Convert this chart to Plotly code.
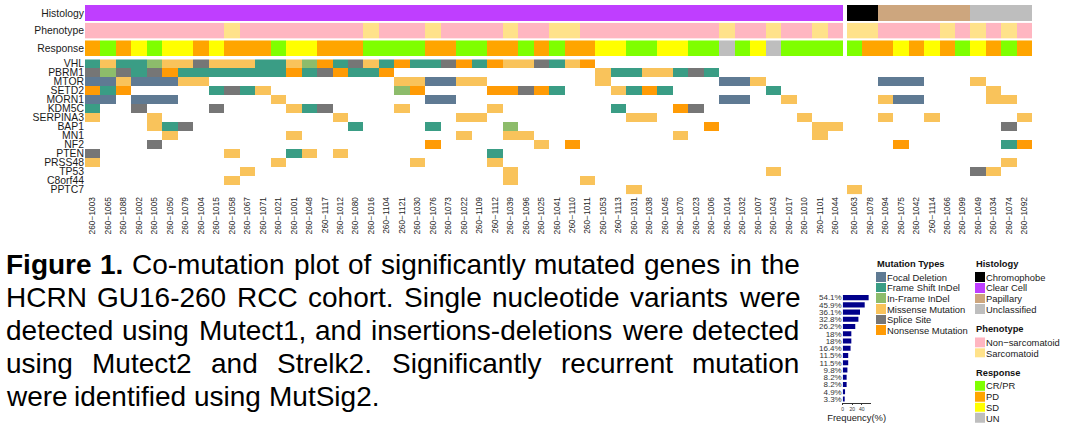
import plotly.graph_objects as go

W, H = 1081, 435
FONT = "Liberation Sans, Arial, Helvetica, sans-serif"

# ---------------------------------------------------------------- data
samples_clear_cell = [
    "260−1003", "260−1065", "260−1088", "260−1002", "260−1005", "260−1050", "260−1079",
    "260−1004", "260−1015", "260−1058", "260−1067", "260−1071", "260−1021", "260−1001",
    "260−1048", "260−1117", "260−1012", "260−1080", "260−1016", "260−1104", "260−1121",
    "260−1030", "260−1076", "260−1073", "260−1022", "260−1109", "260−1112", "260−1039",
    "260−1096", "260−1025", "260−1041", "260−1110", "260−1011", "260−1053", "260−1113",
    "260−1031", "260−1038", "260−1045", "260−1070", "260−1023", "260−1006", "260−1014",
    "260−1032", "260−1007", "260−1043", "260−1017", "260−1010", "260−1101", "260−1044",
]
samples_other = [
    "260−1063", "260−1078", "260−1094", "260−1075", "260−1042", "260−1114",
    "260−1066", "260−1099", "260−1049", "260−1034", "260−1074", "260−1092",
]

genes = ["VHL", "PBRM1", "MTOR", "SETD2", "MORN1", "KDM5C", "SERPINA3", "BAP1",
         "MN1", "NF2", "PTEN", "PRSS48", "TP53", "C8orf44", "PPTC7"]
freq_pct = [54.1, 45.9, 36.1, 32.8, 26.2, 18, 18, 16.4, 11.5, 11.5, 9.8, 8.2, 8.2, 4.9, 3.3]

mut_types = ["Focal Deletion", "Frame Shift InDel", "In-Frame InDel",
             "Missense Mutation", "Splice Site", "Nonsense Mutation"]
mut_letters = ["D", "F", "I", "M", "S", "N"]
mut_colors = ["#5F7A93", "#3A9D85", "#8DBC6B", "#F9C35B", "#767676", "#FF9B05"]

histology_levels = ["Chromophobe", "Clear Cell", "Papillary", "Unclassified"]
histology_letters = ["H", "C", "P", "U"]
histology_colors = ["#000000", "#BF3EFF", "#CDA67E", "#BEBEBE"]

phenotype_levels = ["Non−sarcomatoid", "Sarcomatoid"]
phenotype_letters = ["N", "S"]
phenotype_colors = ["#FFB6C1", "#FFE28A"]

response_levels = ["CR/PR", "PD", "SD", "UN"]
response_letters = ["R", "P", "S", "U"]
response_colors = ["#7FFF00", "#FFA500", "#FFFF00", "#BEBEBE"]

# per-sample codes: clear-cell block | other block  ('.' = no alteration)
histology_row = "CCCCCCCCCC" "CCCCCCCCCC" "CCCCCCCCCC" "CCCCCCCCCC" "CCCCCCCCC" "|" "HHPPPPPPUUUU"
phenotype_row = "NNNNNNNNNS" "NNNNNNNNSN" "NNSNNNNSNN" "SSNNNNNNNN" "NSNNSNNSN" "|" "SSNNNNSNSNSN"
response_row = "PRPSRSSPSP" "PPRSSPPPRR" "RRPPRRPPRP" "RPPSSRRSSR" "RURSURRRR" "|" "RPPSPSPRSPRP"

onc_VHL = "FMFFIMMSMM" "MFFMINFSMF" "NFFSNFNMMS" "FMN......." "........." "|" "............"
onc_PBRM1 = "SISFSNFFFF" "FFFNFSNFFN" ".........." "...MFFMMFS" "F........" "|" "............"
onc_MTOR = "DDMDDDMM.." ".........." "MMDDMM...." "...M......" ".DDM....." "|" "..DDD...M..."
onc_SETD2 = "NFN.....FS" "FM........" "IN....NNSN" "F...MFNF.." "....F...." "|" ".........M.."
onc_MORN1 = "DD.DDD...." "..M......." "..DD......" ".........." ".DD..M..." "|" "..MDD....MM."
onc_KDM5C = "F..S....S." "...MFS...." "M.....M..." "....F...NS" "........." "|" "............"
onc_SERPINA3 = "M...M....." "......M..." "....MM...." ".....MM..." "......M.." "|" "..M..M.....M"
onc_BAP1 = "....MFS..." ".......F.." "..F....I.." ".........." "N......MM" "|" "..........S."
onc_MN1 = ".....M...." "...M......" "....M..MM." "........M." ".......M." "|" "............"
onc_NF2 = "....S....." ".........." "..N......M" ".N........" "........." "|" "...N......FN"
onc_PTEN = "S........M" "...FM.M..." "......F..." ".........." "........." "|" "............"
onc_PRSS48 = "M........." "..M......." ".M....M..." ".........." "........." "|" "..........M."
onc_TP53 = ".........." "M........." ".......M.." ".........." "....M...." "|" "........SM.."
onc_C8orf44 = ".........M" ".........." ".......M.." "..M......." "........." "|" "............"
onc_PPTC7 = ".........." ".........." ".........." ".....M...." "........." "|" "M..........."

onc_rows = [onc_VHL, onc_PBRM1, onc_MTOR, onc_SETD2, onc_MORN1, onc_KDM5C, onc_SERPINA3,
            onc_BAP1, onc_MN1, onc_NF2, onc_PTEN, onc_PRSS48, onc_TP53, onc_C8orf44, onc_PPTC7]

caption_lines = [
    "Figure 1. Co-mutation plot of significantly mutated genes in the",
    "HCRN GU16-260 RCC cohort. Single nucleotide variants were",
    "detected using Mutect1, and insertions-deletions were detected",
    "using Mutect2 and Strelk2. Significantly recurrent mutation",
    "were identified using MutSig2.",
]
caption_bold_words = 2  # "Figure 1."


# ---------------------------------------------------------------- helpers
def px(x):
    return x / W


def py(y):
    return 1 - y / H


def discrete_scale(colors):
    n = len(colors)
    cs = []
    for i, c in enumerate(colors):
        cs.append([i / n, c])
        cs.append([(i + 1) / n, c])
    return cs


def codes_to_z(code_str, letters):
    return [letters.index(ch) if ch in letters else None for ch in code_str]


def heat(z, x, y, colors, xa, ya, ygap=0):
    return go.Heatmap(z=z, x=x, y=y, colorscale=discrete_scale(colors),
                      zmin=-0.5, zmax=len(colors) - 0.5, showscale=False,
                      xaxis=xa, yaxis=ya, hoverinfo="skip", ygap=ygap)


groups = [(samples_clear_cell, "x", 0), (samples_other, "x2", 1)]
traces = []

# oncoprint body
for samples, xa, gi in groups:
    z = [codes_to_z(row.split("|")[gi], mut_letters) for row in onc_rows]
    traces.append(heat(z, samples, genes, mut_colors, xa, "y"))

# annotation rows
ann_rows = [
    (histology_row, histology_letters, histology_colors, "y2"),
    (phenotype_row, phenotype_letters, phenotype_colors, "y3"),
    (response_row, response_letters, response_colors, "y4"),
]
for row, letters, colors, ya in ann_rows:
    for samples, xa, gi in groups:
        z = [codes_to_z(row.split("|")[gi], letters)]
        traces.append(heat(z, samples, [0], colors, xa, ya))

# frequency bars
pct_labels = [("%g" % v) + "%" for v in freq_pct]
traces.append(go.Bar(x=freq_pct, y=genes, orientation="h", marker_color="#00008B",
                     marker_line_width=0, width=0.7, xaxis="x3", yaxis="y5",
                     hoverinfo="skip"))

# legends drawn as swatch heatmaps
legend_specs = [
    (mut_types, mut_colors, "x4", "y6"),
    (histology_levels, histology_colors, "x5", "y7"),
    (phenotype_levels, phenotype_colors, "x5", "y8"),
    (response_levels, response_colors, "x5", "y9"),
]
for labels, colors, xa, ya in legend_specs:
    z = [[i] for i in range(len(labels))]
    traces.append(heat(z, [0], labels, colors, xa, ya, ygap=1))

fig = go.Figure(traces)

base_ax = dict(showgrid=False, zeroline=False, showline=False, ticks="",
               automargin=False, fixedrange=True)
lab_font = dict(family=FONT, size=10.4, color="#1a1a1a")
samp_font = dict(family=FONT, size=8.4, color="#262626")

layout_axes = dict(
    xaxis=dict(base_ax, domain=[px(85), px(843)], anchor="y", type="category",
               range=[-0.5, len(samples_clear_cell) - 0.5], tickangle=-90, tickfont=samp_font,
               tickmode="array", tickvals=samples_clear_cell),
    xaxis2=dict(base_ax, domain=[px(847), px(1032)], anchor="y", type="category",
                range=[-0.5, len(samples_other) - 0.5], tickangle=-90, tickfont=samp_font,
                tickmode="array", tickvals=samples_other),
    yaxis=dict(base_ax, domain=[py(194.3), py(59.3)], anchor="x", type="category",
               range=[len(genes) - 0.5, -0.5], tickfont=lab_font,
               tickmode="array", tickvals=genes),
    yaxis2=dict(base_ax, domain=[py(21), py(5)], anchor="x", range=[-0.5, 0.5],
                tickmode="array", tickvals=[0], ticktext=["Histology"], tickfont=lab_font),
    yaxis3=dict(base_ax, domain=[py(38.4), py(22.7)], anchor="x", range=[-0.5, 0.5],
                tickmode="array", tickvals=[0], ticktext=["Phenotype"], tickfont=lab_font),
    yaxis4=dict(base_ax, domain=[py(56), py(40.3)], anchor="x", range=[-0.5, 0.5],
                tickmode="array", tickvals=[0], ticktext=["Response"], tickfont=lab_font),
    xaxis3=dict(base_ax, domain=[px(842.7), px(870.5)], anchor="y5", range=[0, 58],
                tickmode="array", tickvals=[0, 20, 40], ticks="outside", ticklen=2,
                tickwidth=0.6, tickcolor="#333", showline=True, linewidth=0.6,
                linecolor="#333", tickfont=dict(family=FONT, size=5, color="#333"),
                title=dict(text="Frequency(%)", standoff=3,
                           font=dict(family=FONT, size=9.4, color="#1a1a1a"))),
    yaxis5=dict(base_ax, domain=[py(402.6), py(294)], anchor="x3", type="category",
                range=[len(genes) - 0.5, -0.5], tickmode="array", tickvals=genes,
                ticktext=pct_labels, tickfont=dict(family=FONT, size=8, color="#333")),
    xaxis4=dict(base_ax, domain=[px(876), px(886)], anchor="y6", visible=False, range=[-0.5, 0.5]),
    xaxis5=dict(base_ax, domain=[px(975), px(985)], anchor="y7", visible=False, range=[-0.5, 0.5]),
)
leg_font = dict(family=FONT, size=9.4, color="#1a1a1a")
leg_specs_axes = {"yaxis6": (336, 272, "x4", mut_types),
                  "yaxis7": (315, 272, "x5", histology_levels),
                  "yaxis8": (358.7, 337.3, "x5", phenotype_levels),
                  "yaxis9": (423.7, 380.7, "x5", response_levels)}
for name, (b, t, xa, labels) in leg_specs_axes.items():
    layout_axes[name] = dict(base_ax, domain=[py(b), py(t)], anchor=xa, side="right",
                             type="category", range=[len(labels) - 0.5, -0.5],
                             tickmode="array", tickvals=labels, tickfont=leg_font)

annotations = []
# legend titles
for text, x, y in [("Mutation Types", 876, 264), ("Histology", 975, 264),
                   ("Phenotype", 975, 329.3), ("Response", 975, 372.7)]:
    annotations.append(dict(text="<b>%s</b>" % text, x=px(x), y=py(y), xref="paper",
                            yref="paper", xanchor="left", yanchor="middle", showarrow=False,
                            borderpad=0, font=dict(family=FONT, size=9.3, color="#111")))

# caption, justified word by word (Arial/Liberation Sans advance widths)
AW = {" ": 278, ",": 278, "-": 333, ".": 278, "(": 333, ")": 333}
for ch in "0123456789":
    AW[ch] = 556
AW.update(dict(zip("ABCDEFGHIJKLMNOPQRSTUVWXYZ",
                   [667, 667, 722, 722, 667, 611, 778, 722, 278, 500, 667, 556, 833,
                    722, 778, 667, 778, 722, 667, 611, 722, 667, 944, 667, 667, 611])))
AW.update(dict(zip("abcdefghijklmnopqrstuvwxyz",
                   [556, 556, 500, 556, 556, 278, 556, 556, 222, 222, 500, 222, 833,
                    556, 556, 556, 556, 333, 500, 278, 556, 500, 722, 500, 500, 500])))
AWB = dict(AW)
AWB.update({"F": 611, "i": 278, "g": 611, "u": 611, "r": 389, "e": 556})

CAP_SIZE = 28
CAP_X0, CAP_X1 = 4.5, 798.5
CAP_BASE0, CAP_STEP = 274.5, 33


def word_w(word, bold):
    table = AWB if bold else AW
    return sum(table.get(c, 556) for c in word) / 1000 * CAP_SIZE


for li, line in enumerate(caption_lines):
    words = line.split(" ")
    bolds = [li == 0 and wi < caption_bold_words for wi in range(len(words))]
    widths = [word_w(w, b) for w, b in zip(words, bolds)]
    if li < len(caption_lines) - 1:
        gap = (CAP_X1 - CAP_X0 - sum(widths)) / (len(words) - 1)
    else:
        gap = AW[" "] / 1000 * CAP_SIZE
    xpos = CAP_X0
    ycen = CAP_BASE0 + CAP_STEP * li - 0.3465 * CAP_SIZE
    for w, b, wd in zip(words, bolds, widths):
        annotations.append(dict(text=("<b>%s</b>" % w) if b else w, x=px(xpos), y=py(ycen),
                                xref="paper", yref="paper", xanchor="left", yanchor="middle",
                                showarrow=False, borderpad=0,
                                font=dict(family=FONT, size=CAP_SIZE, color="#000")))
        xpos += wd + gap

fig.update_layout(
    width=W, height=H, margin=dict(l=0, r=0, t=0, b=0), template="none",
    paper_bgcolor="white", plot_bgcolor="white", showlegend=False,
    font=dict(family=FONT, color="#1a1a1a"), annotations=annotations, bargap=0.3,
    **layout_axes,
)

fig.write_html("out.html", config={"displayModeBar": False},
               post_script="document.body.style.margin='0';document.body.style.overflow='hidden';")
